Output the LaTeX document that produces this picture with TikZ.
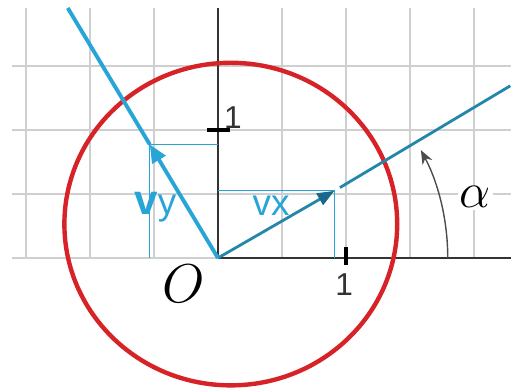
\documentclass[tikz,border=0pt]{standalone}
\usepackage{fontspec}
\setsansfont{Liberation Sans}
\usetikzlibrary{arrows.meta}
\definecolor{vblue}{RGB}{40,165,215}
\definecolor{vteal}{RGB}{35,135,170}
\definecolor{vdark}{RGB}{25,105,140}
\definecolor{cred}{RGB}{215,35,40}

\begin{document}
\begin{tikzpicture}[x=1.28cm,y=1.28cm,
  gridline/.style={gray!38,line width=1.4pt},
  axis/.style={black!80,line width=1.5pt},
  tick/.style={black,line width=2.4pt},
  comp/.style={vblue,line width=0.7pt},
  lbl/.style={font=\sffamily\fontsize{21}{21}\selectfont,vblue,inner sep=0pt},
  num/.style={font=\sffamily\fontsize{18}{18}\selectfont,black!80,inner sep=0pt}]
  \useasboundingbox (-3.406,-2.047) rectangle (4.578,4.031);
  % ---------- grid and axes
  \draw[gridline,step={(1,1)}] (-3.22,0) grid (4.578,3.906);
  \coordinate (O) at (0,0);
  \coordinate (xend) at (4.578,0);
  \coordinate (yend) at (0,3.906);
  \draw[axis] (O) -- (xend);
  \draw[axis] (O) -- (yend);
  \draw[tick] (2,-0.11) -- (2,0.17);
  \draw[tick] (-0.17,2) -- (0.19,2);
  \node[num] (onex) at (1.97,-0.41) {1};
  \node[num] (oney) at (0.234,2.19) {1};
  \node[inner sep=0pt] (olbl) at (-0.53,-0.41) {\scalebox{1.25}{\Huge$O$}};
  % ---------- red circle
  \draw[cred,line width=2.5pt] (0.2,0.53) ellipse [x radius=2.6,y radius=2.52];
  % ---------- components
  \coordinate (vx) at (30:2.1);
  \coordinate (vy) at (121:2.07);
  \draw[comp] (O |- vx) -- (vx) -- (vx |- O);
  \draw[comp] (O |- vy) -- (vy) -- (vy |- O);
  \draw[vteal,line width=1.6pt,-{Triangle[length=0.34cm,width=0.26cm,color=vdark]}] (O) -- (vx);
  \draw[vteal,line width=1.6pt] (30:2.2) -- (30.5:5.3);
  \draw[vblue,line width=2.2pt,-{Triangle[length=0.36cm,width=0.3cm]}] (O) -- (vy);
  \draw[vblue,line width=2.2pt] (vy) -- (121:4.557);
  \node[lbl] (vxlbl) at (0.83,0.81) {vx};
  \node[lbl] (vylbl) at (-0.98,0.80) {\textbf{\fontsize{24}{24}\selectfont v}y};
  % ---------- angle
  \draw[black!70,line width=0.8pt,-{Stealth[length=0.28cm,width=0.22cm]}] (3.59,0) arc[start angle=0,end angle=28,radius=3.59];
  \node[fill=white,inner sep=1pt] (alpha) at (4.02,0.95) {\scalebox{1.13}{\Huge$\alpha$}};
\end{tikzpicture}
\end{document}
